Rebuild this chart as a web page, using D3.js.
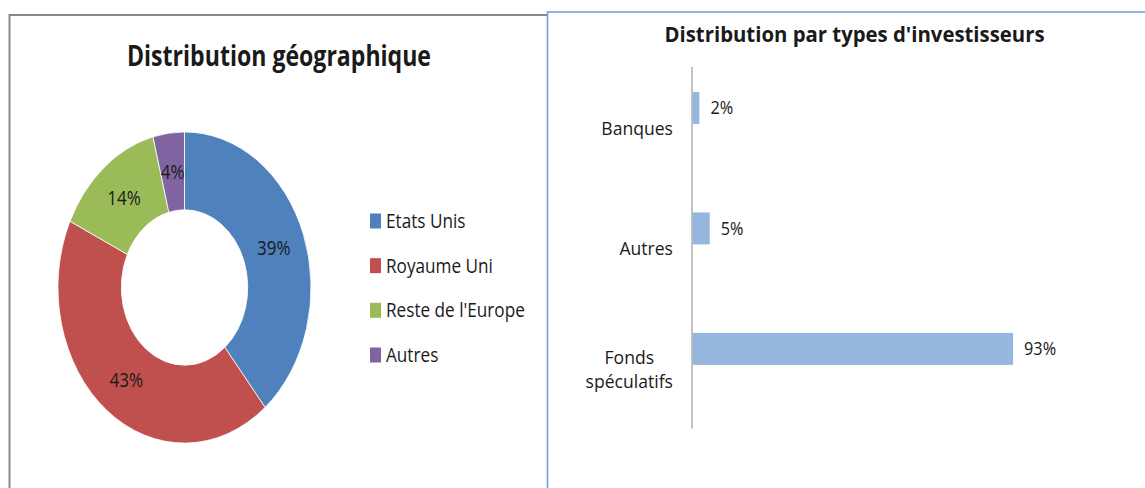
<!DOCTYPE html>
<html><head><meta charset="utf-8">
<script src="https://cdn.jsdelivr.net/npm/d3@7"></script>
<style>
body{margin:0;background:#fff}
svg{display:block}
text{font-family:'Open Sans','Noto Sans',sans-serif;fill:#1a1a1a}
</style>
</head><body>
<svg id="c" width="1145" height="488"></svg>
<script>
// ---- data ----
const geoTitle = "Distribution géographique";
const geoCategories = ["Etats Unis", "Royaume Uni", "Reste de l'Europe", "Autres"];
const geoValues = [39, 43, 14, 4];
const geoColors = ["#4F81BD", "#C0504D", "#9BBB59", "#8064A2"];

const invTitle = "Distribution par types d'investisseurs";
const invCategories = ["Banques", "Autres", "Fonds spéculatifs"];
const invValues = [2, 5, 93];
const invColor = "#95B7DE";

const pct = v => v + "%";
const svg = d3.select("#c");

// narrow the glyphs horizontally (reference uses a condensed face)
function condense(sel, k) {
  sel.each(function () {
    const L = this.getComputedTextLength();
    d3.select(this).attr("textLength", L * k).attr("lengthAdjust", "spacingAndGlyphs");
  });
  return sel;
}

// ---- panel frames ----
svg.append("rect").attr("x", 9.5).attr("y", 15).attr("width", 560).attr("height", 500)
  .attr("fill", "#fff").attr("stroke", "#898989").attr("stroke-width", 2);
svg.append("rect").attr("x", 547.5).attr("y", 12).attr("width", 620).attr("height", 500)
  .attr("fill", "#fff").attr("stroke", "#6A9FD6").attr("stroke-width", 1.5);

// ---- left: donut ----
svg.append("text").attr("x", 279).attr("y", 66).attr("text-anchor", "middle")
  .attr("font-size", 29).attr("font-weight", "bold")
  .attr("textLength", 304).attr("lengthAdjust", "spacingAndGlyphs")
  .text(geoTitle);

const cx = 184.5, cy = 287.5, rx = 126.5, ry = 155.5;
const pie = d3.pie().sort(null).value(d => d)(geoValues);
const arc = d3.arc().innerRadius(0.5).outerRadius(1);
const labelArc = d3.arc().innerRadius(0.75).outerRadius(0.75);
const color = d3.scaleOrdinal().domain(geoCategories).range(geoColors);

const dg = svg.append("g").attr("transform", `translate(${cx},${cy}) scale(${rx},${ry})`);
dg.selectAll("path").data(pie).join("path")
  .attr("d", arc)
  .attr("fill", (d, i) => color(geoCategories[i]))
  .attr("stroke", "#fff").attr("stroke-width", 0.8)
  .attr("vector-effect", "non-scaling-stroke");

condense(svg.append("g").selectAll("text").data(pie).join("text")
  .attr("x", d => cx + labelArc.centroid(d)[0] * rx)
  .attr("y", d => cy + labelArc.centroid(d)[1] * ry + 7)
  .attr("text-anchor", "middle").attr("font-size", 20)
  .text(d => pct(d.data)), 0.85);

const legendY = d3.scalePoint().domain(geoCategories).range([221, 355]);
const lg = svg.append("g");
lg.selectAll("rect").data(geoCategories).join("rect")
  .attr("x", 370).attr("y", d => legendY(d) - 7.5).attr("width", 11).attr("height", 15)
  .attr("fill", d => color(d));
condense(lg.selectAll("text").data(geoCategories).join("text")
  .attr("x", 386).attr("y", d => legendY(d) + 7).attr("font-size", 19.5)
  .text(d => d), 0.88);

// ---- right: bars ----
svg.append("text").attr("x", 854.5).attr("y", 41.5).attr("text-anchor", "middle")
  .attr("font-size", 21.5).attr("font-weight", "bold")
  .attr("textLength", 380).attr("lengthAdjust", "spacingAndGlyphs")
  .text(invTitle);

const x = d3.scaleLinear().domain([0, 100]).range([692, 692 + 344.7]);
const y = d3.scaleBand().domain(invCategories).range([67, 428.5]).padding(0);
const bw = y.bandwidth();

svg.append("line").attr("x1", x(0)).attr("x2", x(0)).attr("y1", y.range()[0]).attr("y2", y.range()[1])
  .attr("stroke", "#868686").attr("stroke-width", 1);

const bars = svg.append("g");
bars.selectAll("rect").data(invValues).join("rect")
  .attr("x", x(0) + 0.5)
  .attr("y", (d, i) => y(invCategories[i]) + bw * 0.207)
  .attr("width", d => x(d) - x(0))
  .attr("height", bw * 0.265)
  .attr("fill", invColor);

condense(bars.selectAll("text").data(invValues).join("text")
  .attr("x", d => x(d) + 11.5)
  .attr("y", (d, i) => y(invCategories[i]) + bw * 0.207 + bw * 0.265 / 2 + 6.5)
  .attr("font-size", 18.5)
  .text(d => pct(d)), 0.88);

// category labels (wrapped when long, block right-aligned, lines centred)
const cg = svg.append("g");
const K = 0.95;
invCategories.forEach(cat => {
  const probe = cg.append("text").attr("font-size", 18.5).text(cat);
  const full = probe.node().getComputedTextLength() * K;
  probe.remove();
  const lines = full > 100 ? cat.split(" ") : [cat];
  const texts = lines.map(l => cg.append("text").attr("font-size", 18.5).attr("text-anchor", "middle").text(l));
  let maxW = 0;
  texts.forEach(t => { maxW = Math.max(maxW, t.node().getComputedTextLength() * K); });
  const cxl = x(0) - 19 - maxW / 2;
  const lh = 24;
  const yc = y(cat) + bw / 2 + 1;
  texts.forEach((t, k) => {
    t.attr("x", cxl).attr("y", yc + 6.5 + (k - (lines.length - 1) / 2) * lh);
    condense(t, K);
  });
});
</script>
</body></html>
